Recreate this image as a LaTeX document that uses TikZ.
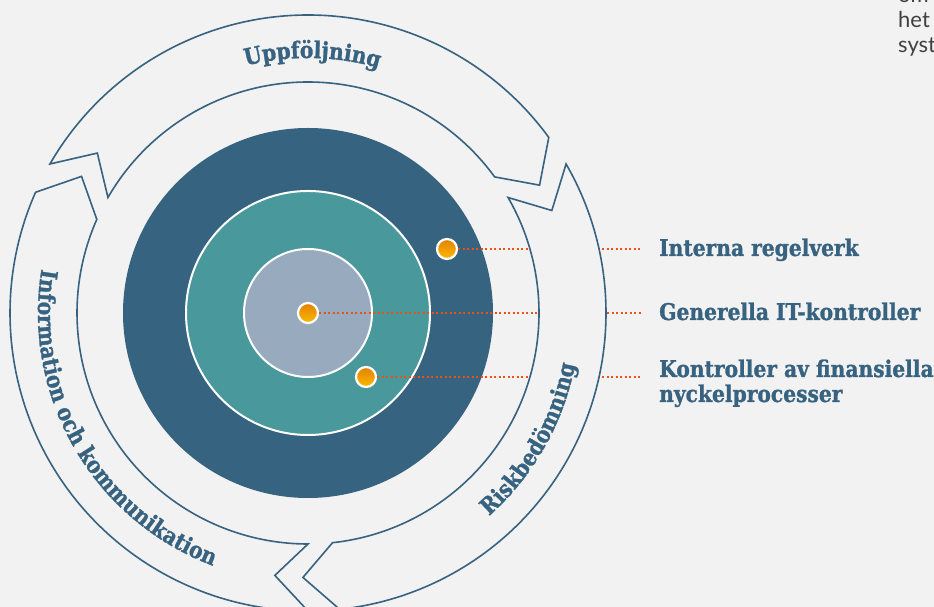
\documentclass[tikz,border=0pt]{standalone}
\usepackage{fontspec}
\usetikzlibrary{calc,decorations.text}
\newfontfamily\slab[FakeStretch=0.88, BoldFeatures={FakeBold=1.2}]{DejaVu Serif}
\newfontfamily\thinsans{Lato}
\definecolor{bg}{RGB}{242,242,242}
\definecolor{cdark}{RGB}{54,99,128}
\definecolor{cteal}{RGB}{73,152,155}
\definecolor{clight}{RGB}{152,170,189}
\definecolor{mblue}{RGB}{55,98,128}
\definecolor{dotred}{RGB}{236,80,20}
\definecolor{otop}{RGB}{228,128,0}
\definecolor{obot}{RGB}{250,186,0}
\definecolor{greytext}{RGB}{64,64,64}
\tikzset{
  odot/.style={circle, inner sep=0pt, minimum size=20pt, draw=white, line width=2.2pt, top color=otop, bottom color=obot},
  dotline/.style={draw=dotred, line width=2.2pt, dash pattern=on 2.2pt off 2.3pt},
  arrowband/.style={fill=bg, draw=mblue, line width=1.6pt, line join=miter},
  lbl/.style={anchor=base west, inner sep=0pt, text=mblue, font=\slab\bfseries\fontsize{23}{25}\selectfont},
  side/.style={anchor=base west, inner sep=0pt, text=greytext, font=\thinsans\fontsize{22}{25}\selectfont}
}
\begin{document}
\begin{tikzpicture}[x=1pt,y=1pt]
\useasboundingbox (0,0) rectangle (934,607);
\fill[bg] (0,0) rectangle (934,607);
\coordinate (C) at (308,294);
% concentric circles
\fill[cdark] (C) circle[radius=185pt];
\filldraw[fill=cteal, draw=white, line width=2pt] (C) circle[radius=122pt];
\filldraw[fill=clight, draw=white, line width=2pt] (C) circle[radius=64pt];
% dots and dotted leaders
\node[odot] (d1) at (447,358) {};
\node[odot] (d2) at (308,294) {};
\node[odot] (d3) at (366,230) {};
\coordinate (e1) at (641,358);
\coordinate (e2) at (641,294);
\coordinate (e3) at (641,230);
\draw[dotline] (d1) -- (e1);
\draw[dotline] (d2) -- (e2);
\draw[dotline] (d3) -- (e3);
% cycle arrows
\foreach \t in {150,30,-90}{
  \pgfmathsetmacro\h{\t-113.9}
  \pgfmathsetmacro\ha{\h-7.2}
  \pgfmathsetmacro\ta{\t-7.2}
  \filldraw[arrowband] ($(C)+(\t:298pt)$) arc[start angle=\t, end angle=\h, radius=298pt]
    -- ($(C)+(\ha:264.5pt)$) -- ($(C)+(\h:231pt)$)
    arc[start angle=\h, end angle=\t, radius=231pt]
    -- ($(C)+(\ta:264.5pt)$) -- cycle;
}
% arc texts
\path[decorate, decoration={text along path, text align=center,
  text={|\slab\bfseries\fontsize{23}{23}\selectfont\color{mblue}|Uppföljning}}]
  ($(C)+(140:255pt)$) arc[start angle=140, end angle=38, radius=255pt];
\path[decorate, decoration={text along path, text align=center,
  text={|\slab\bfseries\fontsize{23}{23}\selectfont\color{mblue}|Riskbedömning}}]
  ($(C)+(-59.6:272pt)$) arc[start angle=-59.6, end angle=0.4, radius=272pt];
\path[decorate, decoration={text along path, text align=center,
  text={|\slab\bfseries\fontsize{23}{23}\selectfont\color{mblue}|Information och kommunikation}}]
  ($(C)+(155:270pt)$) arc[start angle=155, end angle=265, radius=270pt];
% labels
\node[lbl] (l1) at (659,351) {Interna regelverk};
\node[lbl] (l2) at (659,287) {Generella IT-kontroller};
\node[lbl] (l3) at (659,230) {Kontroller av finansiella};
\node[lbl] (l4) at (659,205) {nyckelprocesser};
% cut-off side text
\node[side] (s1) at (898,604) {om};
\node[side] (s2) at (898,579) {het};
\node[side] (s3) at (898,554) {syst};
\end{tikzpicture}
\end{document}
